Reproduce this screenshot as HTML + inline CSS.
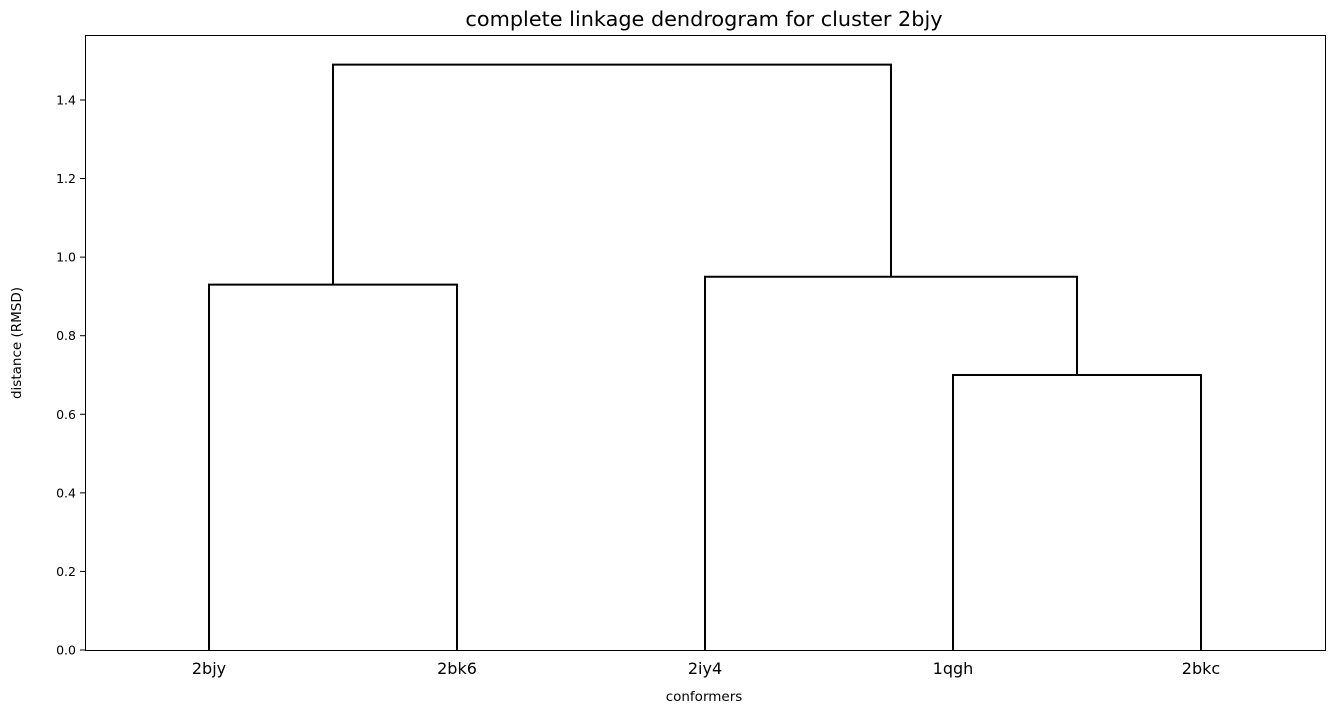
<!DOCTYPE html>
<html><head><meta charset="utf-8">
<style>
body{margin:0;background:#fff;}
svg{display:block;font-family:"DejaVu Sans","Liberation Sans",sans-serif;}
</style></head>
<body>
<svg id="chart" width="1334" height="714">
<rect x="0" y="0" width="1334" height="714" fill="#fff"/>
<text x="704" y="26" font-size="20.8" text-anchor="middle">complete linkage dendrogram for cluster 2bjy</text>
<g id="marks"></g>
<g id="axes"></g>
<rect x="85.5" y="35.5" width="1240" height="615" fill="none" stroke="#000" stroke-width="1"/>
<text x="704" y="701" font-size="13.5" text-anchor="middle">conformers</text>
<text transform="translate(21,343) rotate(-90)" font-size="13.5" text-anchor="middle">distance (RMSD)</text>
</svg>
<script>
const leafLabels = ["2bjy","2bk6","2iy4","1qgh","2bkc"];
const yTicks = [0.0,0.2,0.4,0.6,0.8,1.0,1.2,1.4];
const linkXLeft = [5, 35, 25, 10];
const linkXRight = [15, 45, 40, 32.5];
const linkHeight = [0.93, 0.70, 0.95, 1.49];
const linkLeftChildH = [0, 0, 0, 0.93];
const linkRightChildH = [0, 0, 0.70, 0.95];

const X0=85, X1=1325, Y0=650, Y1=35, XMAX=50, YMAX=1.5654;
const sx = v => X0 + v/XMAX*(X1-X0);
const sy = v => Y0 - v/YMAX*(Y0-Y1);
const NS="http://www.w3.org/2000/svg";
const marks=document.getElementById('marks'), axes=document.getElementById('axes');

for(let i=0;i<linkHeight.length;i++){
  const p=document.createElementNS(NS,'path');
  const xl=sx(linkXLeft[i]), xr=sx(linkXRight[i]), h=sy(linkHeight[i]);
  p.setAttribute('d',`M${xl},${sy(linkLeftChildH[i])} L${xl},${h} L${xr},${h} L${xr},${sy(linkRightChildH[i])}`);
  p.setAttribute('fill','none');p.setAttribute('stroke','#000');p.setAttribute('stroke-width','2');
  
  
  marks.appendChild(p);
}
yTicks.forEach(t=>{
  const y=sy(t);
  const l=document.createElementNS(NS,'line');
  l.setAttribute('x1',X0-5);l.setAttribute('x2',X0);l.setAttribute('y1',y);l.setAttribute('y2',y);l.setAttribute('stroke','#000');
  
  
  axes.appendChild(l);
  const tx=document.createElementNS(NS,'text');
  tx.setAttribute('x',X0-9);tx.setAttribute('y',y+4.5);tx.setAttribute('font-size','12.5');tx.setAttribute('text-anchor','end');
  tx.textContent=t.toFixed(1);
  
  
  axes.appendChild(tx);
});
leafLabels.forEach((lab,i)=>{
  const x=sx(5+10*i);
  const tx=document.createElementNS(NS,'text');
  tx.setAttribute('x',x);tx.setAttribute('y',674);tx.setAttribute('font-size','16');tx.setAttribute('text-anchor','middle');
  tx.textContent=lab;
  
  
  axes.appendChild(tx);
});
</script>
</body></html>
